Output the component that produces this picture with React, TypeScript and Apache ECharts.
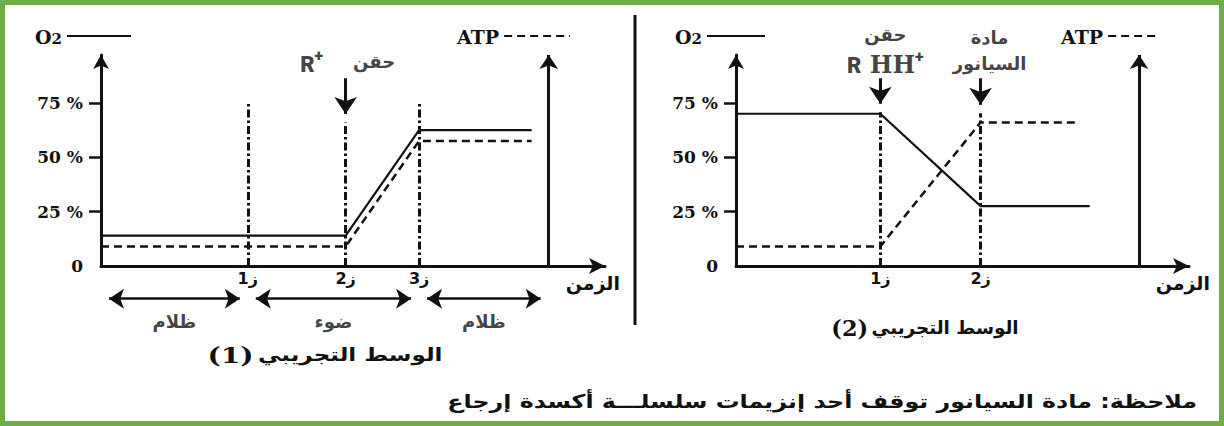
import React, { useEffect, useRef } from "react";
import * as echarts from "echarts";

// ---------------- data ----------------
const Y_MAX = 97;
const yTickValues = [25, 50, 75];
const yLabelValues = [0, 25, 50, 75];
const yLabelTexts = ["0", "25 %", "50 %", "75 %"];
const timeAxisName = "الزمن";
const seriesNames = ["O2", "ATP"];

// experimental medium 1
const m1XMax = 10.3;
const m1O2Time = [0, 5, 6.5, 8.8];
const m1O2 = [14, 14, 62.5, 62.5];
const m1ATPTime = [0, 5, 6.5, 8.8];
const m1ATP = [9, 9, 57.5, 57.5];
const m1Marks = [3, 5, 6.5];
const m1MarkLabels = ["ز1", "ز2", "ز3"];
const m1GuideTops = [75, 66, 75];
const m1PeriodBounds = [0, 3, 6.5, 9.15];
const m1PeriodLabels = ["ظلام", "ضوء", "ظلام"];
const m1ATPAxisAt = 9.15;
const m1InjectAt = [5];
const m1InjectFrom = [86.3];
const m1InjectTip = [66];
const m1Number = "(1)";

// experimental medium 2
const m2XMax = 9.26;
const m2O2Time = [0, 2.95, 5, 7.23];
const m2O2 = [70, 70, 27.5, 27.5];
const m2ATPTime = [0, 2.95, 5, 7.03];
const m2ATP = [9, 9, 66, 66];
const m2Marks = [2.95, 5];
const m2MarkLabels = ["ز1", "ز2"];
const m2GuideTops = [70.7, 70.2];
const m2ATPAxisAt = 8.24;
const m2InjectAt = [2.95, 5];
const m2InjectFrom = [86.3, 86.3];
const m2InjectTip = [70.7, 70.2];
const m2Number = "(2)";

const mediumTitle = "الوسط التجريبي";
const injectWord = "حقن";
const cyanideWords = ["مادة", "السيانور"];
const footnote = "ملاحظة: مادة السيانور توقف أحد إنزيمات سلسلـــة أكسدة إرجاع";

// ---------------- layout / style ----------------
const INK = "#111111";
const GREEN = "#70AD47";
const SERIF = '"DejaVu Serif", "Liberation Serif", serif';
const AR = '"DejaVu Sans", "Noto Sans", sans-serif';
const SANS = 'Roboto, "Open Sans", "Liberation Sans", sans-serif';
const GRID_TOP = 55;
const GRID_H = 211;
const G1 = { left: 101, width: 504 };
const G2 = { left: 736, width: 453 };
const PERIOD_ARROW_Y = -15;
const PERIOD_LABEL_Y = -25.5;

const pxY = GRID_H / Y_MAX;

const labelRich = {
  r: { fontFamily: SANS, fontWeight: 900, fontSize: 22, color: INK, lineHeight: 28, verticalAlign: "bottom" },
  h: { fontFamily: SERIF, fontWeight: "bold", fontSize: 24, color: INK, lineHeight: 28, verticalAlign: "bottom" },
  p: { fontFamily: SANS, fontWeight: 900, fontSize: 16, color: INK, lineHeight: 28, verticalAlign: "top" },
  a: { fontFamily: AR, fontWeight: "bold", fontSize: 18, color: INK, lineHeight: 28 },
  g: { fontSize: 18, lineHeight: 28, width: 30 },
};

function xAxisFor(i: number, max: number, marks: number[], labels: string[], nameGap: number) {
  return {
    type: "value",
    gridIndex: i,
    min: 0,
    max,
    axisLine: {
      show: true,
      onZero: false,
      symbol: ["none", "arrow"],
      symbolSize: [12, 16],
      lineStyle: { color: INK, width: 3 },
    },
    axisTick: { show: false },
    splitLine: { show: false },
    axisLabel: {
      customValues: marks,
      formatter: (v: number) => {
        const k = marks.findIndex((m) => Math.abs(m - v) < 1e-6);
        return k >= 0 ? labels[k] : "";
      },
      color: INK,
      fontFamily: AR,
      fontWeight: "bold",
      fontSize: 16,
      margin: 4,
    },
    name: timeAxisName,
    nameLocation: "end",
    nameGap,
    nameTextStyle: {
      color: INK,
      fontFamily: AR,
      fontWeight: "bold",
      fontSize: 19,
      align: "right",
      verticalAlign: "top",
      padding: [7, 0, 0, 0],
    },
  };
}

function yAxisFor(i: number) {
  return {
    type: "value",
    gridIndex: i,
    min: 0,
    max: Y_MAX,
    axisLine: {
      show: true,
      symbol: ["none", "arrow"],
      symbolSize: [12, 14],
      lineStyle: { color: INK, width: 3 },
    },
    axisTick: { show: true, customValues: yTickValues, length: 12, lineStyle: { color: INK, width: 2.5 } },
    axisLabel: {
      customValues: yLabelValues,
      formatter: (v: number) => {
        const k = yLabelValues.indexOf(v);
        return k >= 0 ? yLabelTexts[k] : "";
      },
      margin: 18,
      color: INK,
      fontFamily: SERIF,
      fontWeight: "bold",
      fontSize: 17,
    },
    splitLine: { show: false },
  };
}

type Panel = {
  xMax: number;
  o2Time: number[];
  o2: number[];
  atpTime: number[];
  atp: number[];
  marks: number[];
  guideTops: number[];
  atpAt: number;
  injectAt: number[];
  injectFrom: number[];
  injectTip: number[];
};

function panelSeries(i: number, p: Panel): any[] {
  const common = { xAxisIndex: i, yAxisIndex: i, silent: true };
  return [
    {
      ...common,
      type: "lines",
      coordinateSystem: "cartesian2d",
      clip: false,
      z: 2,
      color: INK,
      lineStyle: { color: INK, width: 3, type: [8, 3, 2.5, 3], opacity: 1 },
      data: p.marks.map((m, j) => ({ coords: [[m, 0], [m, p.guideTops[j]]] })),
    },
    {
      ...common,
      type: "lines",
      coordinateSystem: "cartesian2d",
      clip: false,
      z: 3,
      color: INK,
      symbol: ["none", "arrow"],
      symbolSize: 14,
      lineStyle: { color: INK, width: 3, type: "solid", opacity: 1 },
      data: [{ coords: [[p.atpAt, 0], [p.atpAt, Y_MAX]] }],
    },
    {
      ...common,
      type: "lines",
      coordinateSystem: "cartesian2d",
      clip: false,
      z: 4,
      color: INK,
      symbol: ["none", "arrow"],
      symbolSize: 17,
      lineStyle: { color: INK, width: 3, type: "solid", opacity: 1 },
      data: p.injectAt.map((x, j) => ({
        coords: [[x, p.injectFrom[j]], [x, p.injectTip[j] + 8.5 / pxY]],
      })),
    },
    {
      ...common,
      name: seriesNames[0],
      type: "line",
      z: 5,
      color: INK,
      symbol: "none",
      lineStyle: { color: INK, width: 2.2, type: "solid" },
      data: p.o2Time.map((t, j) => [t, p.o2[j]]),
    },
    {
      ...common,
      name: seriesNames[1],
      type: "line",
      z: 5,
      color: INK,
      symbol: "none",
      lineStyle: { color: INK, width: 2.5, type: [8, 5] },
      data: p.atpTime.map((t, j) => [t, p.atp[j]]),
    },
  ];
}

function buildOption() {
  const p1: Panel = {
    xMax: m1XMax,
    o2Time: m1O2Time, o2: m1O2, atpTime: m1ATPTime, atp: m1ATP,
    marks: m1Marks, guideTops: m1GuideTops, atpAt: m1ATPAxisAt,
    injectAt: m1InjectAt, injectFrom: m1InjectFrom, injectTip: m1InjectTip,
  };
  const p2: Panel = {
    xMax: m2XMax,
    o2Time: m2O2Time, o2: m2O2, atpTime: m2ATPTime, atp: m2ATP,
    marks: m2Marks, guideTops: m2GuideTops, atpAt: m2ATPAxisAt,
    injectAt: m2InjectAt, injectFrom: m2InjectFrom, injectTip: m2InjectTip,
  };
  const pxX1 = G1.width / m1XMax;

  const periodArrows = {
    type: "lines",
    coordinateSystem: "cartesian2d",
    xAxisIndex: 0,
    yAxisIndex: 0,
    silent: true,
    clip: false,
    color: INK,
    symbol: ["arrow", "arrow"],
    symbolSize: 15,
    lineStyle: { color: INK, width: 2.5, type: "solid", opacity: 1 },
    data: m1PeriodLabels.map((_, j) => ({
      coords: [
        [m1PeriodBounds[j] + 8 / pxX1, PERIOD_ARROW_Y],
        [m1PeriodBounds[j + 1] - 8 / pxX1, PERIOD_ARROW_Y],
      ],
    })),
  };

  const periodLabels = {
    type: "scatter",
    xAxisIndex: 0,
    yAxisIndex: 0,
    silent: true,
    clip: false,
    symbolSize: 0,
    itemStyle: { color: "transparent" },
    label: {
      show: true,
      position: "inside",
      formatter: "{b}",
      color: INK,
      fontFamily: AR,
      fontWeight: "bold",
      fontSize: 18,
    },
    data: m1PeriodLabels.map((name, j) => ({
      name,
      value: [(m1PeriodBounds[j] + m1PeriodBounds[j + 1]) / 2, PERIOD_LABEL_Y],
    })),
  };

  const injectLabels1 = {
    type: "scatter",
    xAxisIndex: 0,
    yAxisIndex: 0,
    silent: true,
    clip: false,
    symbolSize: 0,
    itemStyle: { color: "transparent" },
    label: {
      show: true,
      position: "top",
      distance: 3,
      offset: [2, 0],
      formatter: `{r|R}{p|+}{g|}{a|${injectWord}}`,
      rich: labelRich,
    },
    data: [[m1InjectAt[0], m1InjectFrom[0]]],
  };

  const injectLabels2 = {
    type: "scatter",
    xAxisIndex: 1,
    yAxisIndex: 1,
    silent: true,
    clip: false,
    symbolSize: 0,
    itemStyle: { color: "transparent" },
    label: { show: true, position: "top", distance: 2, rich: labelRich },
    data: [
      {
        value: [m2InjectAt[0], m2InjectFrom[0]],
        label: {
          offset: [5, 0],
          formatter: `{a|${injectWord}}\n{r|R}{h| HH}{p|+}`,
        },
      },
      {
        value: [m2InjectAt[1], m2InjectFrom[1]],
        label: {
          offset: [9, 0],
          formatter: `{c|${cyanideWords[0]}}\n{c|${cyanideWords[1]}}`,
          rich: {
            c: { fontFamily: AR, fontWeight: "bold", fontSize: 18, color: INK, lineHeight: 26 },
          },
        },
      },
    ],
  };

  const legendCommon = {
    orient: "horizontal",
    align: "right",
    top: 22,
    itemHeight: 14,
    selectedMode: false,
    itemStyle: { opacity: 0 },
    formatter: (name: string) => (name === "O2" ? "{b|O}{s|2}" : "{b|ATP}"),
    textStyle: {
      rich: {
        b: { fontFamily: SERIF, fontWeight: "bold", fontSize: 19, color: INK, lineHeight: 20, verticalAlign: "bottom" },
        s: { fontFamily: SERIF, fontWeight: "bold", fontSize: 15, color: INK, lineHeight: 20, verticalAlign: "bottom" },
      },
    },
  };

  const titleRich = {
    n: { fontFamily: SERIF, fontWeight: "bold", fontSize: 22, fill: INK, lineHeight: 26 },
    a: { fontFamily: AR, fontWeight: "bold", fontSize: 18, fill: INK, lineHeight: 26 },
  };

  return {
    animation: false,
    backgroundColor: "#ffffff",
    grid: [
      { left: G1.left, top: GRID_TOP, width: G1.width, height: GRID_H },
      { left: G2.left, top: GRID_TOP, width: G2.width, height: GRID_H },
    ],
    xAxis: [
      xAxisFor(0, m1XMax, m1Marks, m1MarkLabels, 15),
      xAxisFor(1, m2XMax, m2Marks, m2MarkLabels, 21),
    ],
    yAxis: [yAxisFor(0), yAxisFor(1)],
    legend: [
      { ...legendCommon, data: ["O2"], left: 30, itemWidth: 64 },
      { ...legendCommon, data: ["ATP"], left: 452, itemWidth: 66 },
      { ...legendCommon, data: ["O2"], left: 670, itemWidth: 58 },
      { ...legendCommon, data: ["ATP"], left: 1056, itemWidth: 48 },
    ],
    series: [
      ...panelSeries(0, p1),
      ...panelSeries(1, p2),
      periodArrows,
      periodLabels,
      injectLabels1,
      injectLabels2,
    ],
    graphic: [
      {
        type: "line",
        silent: true,
        shape: { x1: 635, y1: 15, x2: 635, y2: 325 },
        style: { stroke: INK, lineWidth: 3 },
      },
      {
        type: "text",
        silent: true,
        x: 325,
        y: 355,
        scaleX: 1.28,
        style: {
          text: `{n|${m1Number}} {a|${mediumTitle}}`,
          rich: titleRich,
          align: "center",
          verticalAlign: "middle",
        },
      },
      {
        type: "text",
        silent: true,
        x: 925,
        y: 328,
        scaleX: 1.02,
        style: {
          text: `{n|${m2Number}} {a|${mediumTitle}}`,
          rich: titleRich,
          align: "center",
          verticalAlign: "middle",
        },
      },
      {
        type: "text",
        silent: true,
        x: 1197,
        y: 401,
        scaleX: 1.25,
        style: {
          text: footnote,
          fill: INK,
          fontFamily: AR,
          fontWeight: "bold",
          fontSize: 19,
          align: "right",
          verticalAlign: "middle",
        },
      },
      {
        type: "rect",
        silent: true,
        z: 100,
        shape: { x: 2.5, y: 2.5, width: 1219, height: 421 },
        style: { fill: "none", stroke: GREEN, lineWidth: 5 },
      },
    ],
  };
}

export default function App() {
  const ref = useRef<HTMLDivElement>(null);
  useEffect(() => {
    document.body.style.margin = "0";
    const chart = echarts.init(ref.current!, null, { renderer: "svg" });
    chart.setOption(buildOption() as any);
    return () => chart.dispose();
  }, []);
  return <div ref={ref} style={{ width: 1224, height: 426, background: "#fff" }} />;
}
